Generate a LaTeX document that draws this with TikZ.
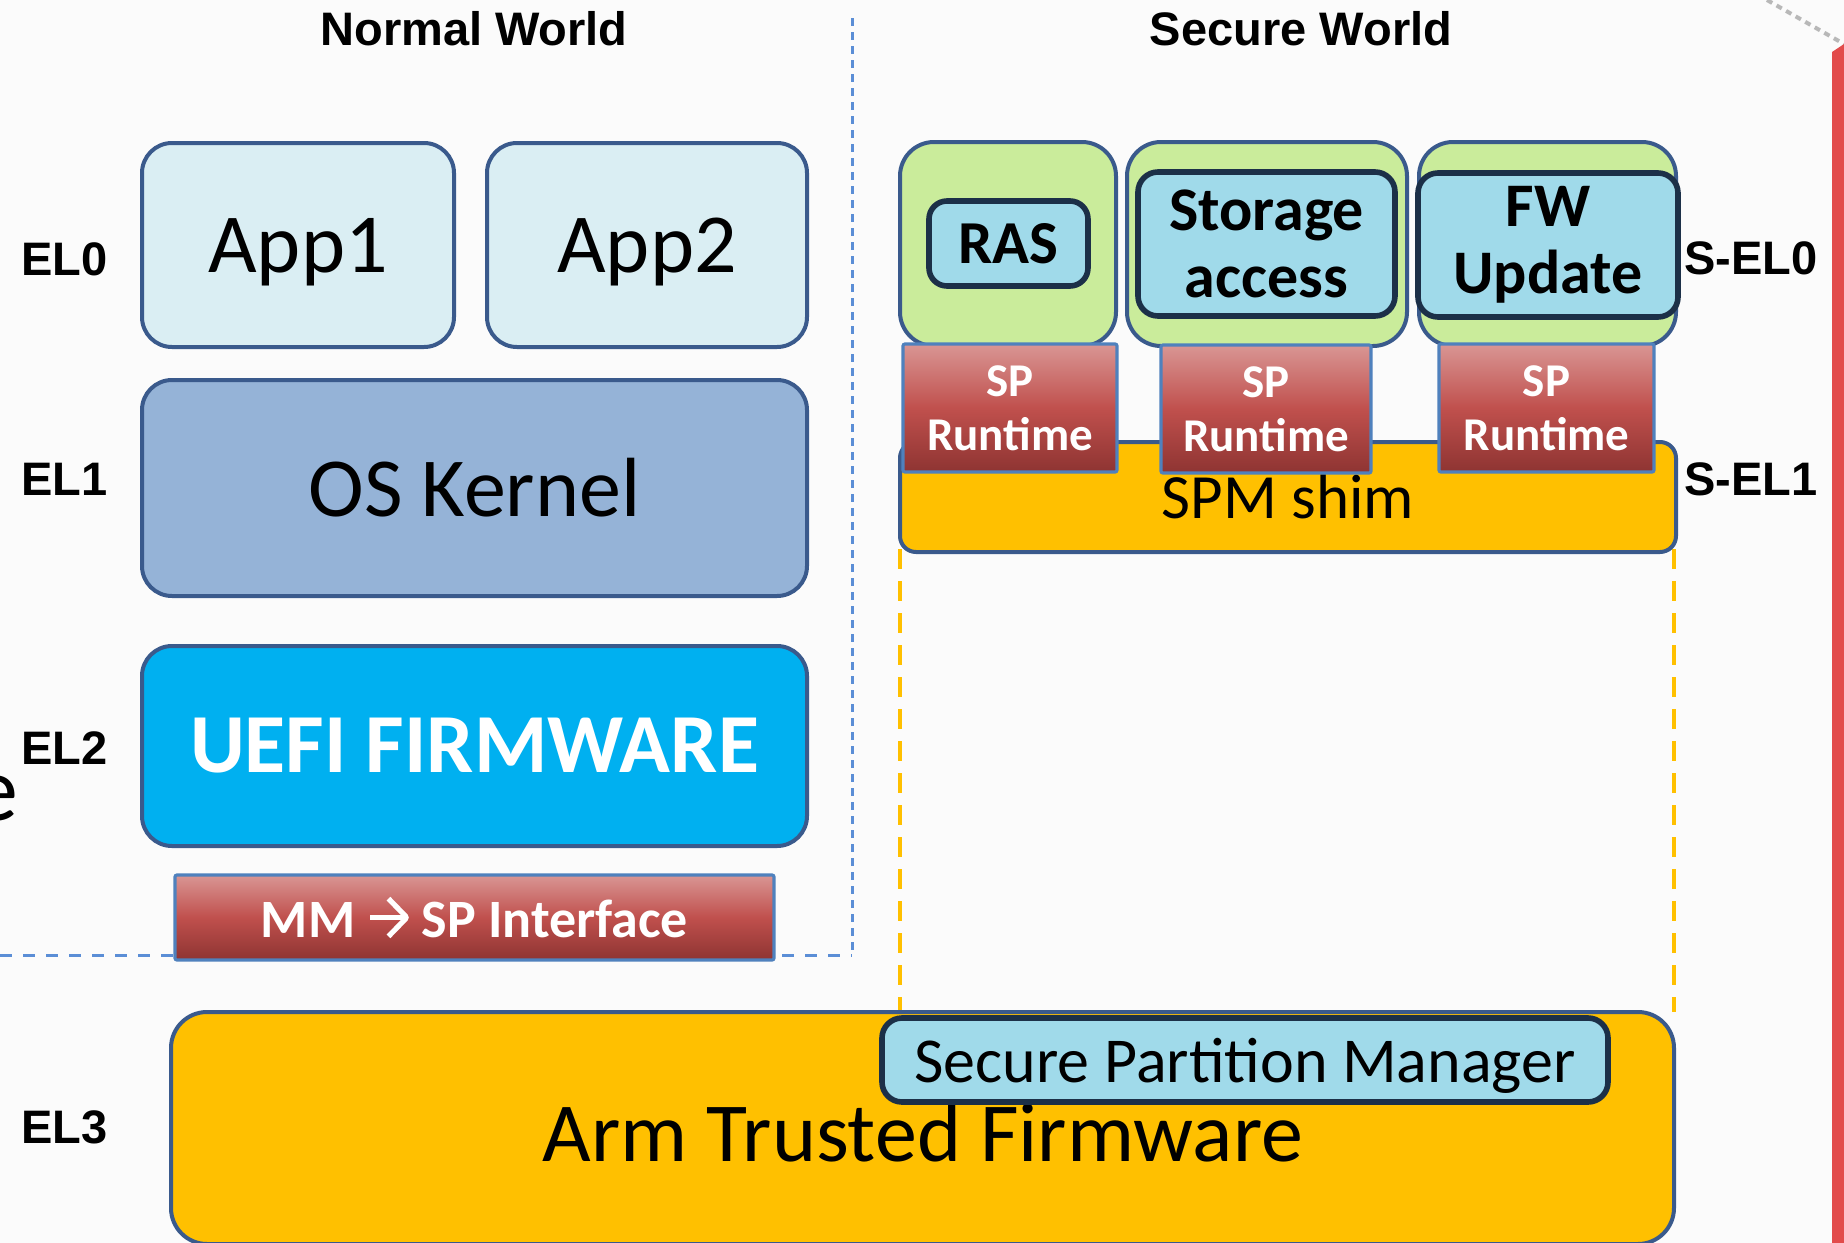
\documentclass[tikz,border=0pt]{standalone}
\usepackage{fontspec}
\setmainfont{Carlito}
\newfontfamily\arialf{Liberation Sans}
\usetikzlibrary{arrows.meta}
\definecolor{bgc}{HTML}{FBFBFB}
\definecolor{dkblue}{HTML}{3A5A8C}
\definecolor{appfill}{HTML}{DAEEF3}
\definecolor{osfill}{HTML}{95B3D7}
\definecolor{uefifill}{HTML}{00B0F0}
\definecolor{greenfill}{HTML}{CAEC9B}
\definecolor{bevelfill}{HTML}{A0DAEA}
\definecolor{beveledge}{HTML}{1C3048}
\definecolor{rtop}{HTML}{D99694}
\definecolor{rmid}{HTML}{C0504D}
\definecolor{rbot}{HTML}{8E3432}
\definecolor{redge}{HTML}{4F81BD}
\definecolor{yellowfill}{HTML}{FFC000}
\definecolor{redbar}{HTML}{E24B4B}
\definecolor{blued}{HTML}{5B8ED6}
\definecolor{greyd}{HTML}{B8B8B8}
\newcommand\mmarrow{\tikz[baseline=0pt]{\draw[white,line width=2.6pt] (0,0.37em) -- (0.66em,0.37em);
  \draw[white,line width=2.6pt,line join=miter] (0.34em,0.02em) -- (0.68em,0.37em) -- (0.34em,0.72em);}}
\begin{document}
\begin{tikzpicture}[x=0.5pt,y=-0.5pt,
  box/.style={draw=dkblue, line width=2pt, rounded corners=15pt, inner sep=0pt, align=center},
  appbox/.style={box, fill=appfill, font=\fontsize{42}{48}\selectfont, text depth=0pt},
  greenbox/.style={box, fill=greenfill, rounded corners=17pt},
  bevelbox/.style={draw=beveledge, line width=2.8pt, fill=bevelfill, rounded corners=10pt, inner sep=0pt, align=center},
  redbox/.style={draw=redge, line width=1.6pt, top color=rtop, bottom color=rbot, middle color=rmid, inner sep=0pt, align=center, text=white, rounded corners=1pt},
  yellowbox/.style={box, fill=yellowfill},
  lbl/.style={font=\arialf\bfseries\fontsize{23.5}{28}\selectfont, inner sep=0pt},
  elbl/.style={lbl, anchor=west},
  bdash/.style={blued, line width=1.5pt, dash pattern=on 4pt off 3pt},
  odash/.style={yellowfill, line width=2pt, dash pattern=on 10pt off 6pt}
]
\useasboundingbox (0,0) rectangle (1844,1243);
\fill[bgc] (0,0) rectangle (1844,1243);

% coordinates for dashed separators
\coordinate (vtop) at (852,18);
\coordinate (vbot) at (852,955);
\coordinate (hleft) at (0,955);
\coordinate (oltop) at (900,549);
\coordinate (olbot) at (900,1012);
\coordinate (ortop) at (1674,549);
\coordinate (orbot) at (1674,1012);
\coordinate (gstart) at (1767,0);
\coordinate (gend) at (1844,44);

% top right decoration
\draw[greyd, line width=2pt, dash pattern=on 3pt off 2.5pt] (gstart) -- (gend);
\fill[redbar] (1832,52) -- (1844,44) -- (1844,1243) -- (1832,1243) -- cycle;

% separators
\draw[bdash] (vtop) -- (vbot);
\draw[blued, line width=1.5pt, dash pattern=on 6pt off 5.5pt] (hleft) -- (vbot);
\draw[odash] (oltop) -- (olbot);
\draw[odash] (ortop) -- (orbot);

% cut-off letter at left edge
\node[font=\fontsize{46}{50}\selectfont, anchor=base east, inner sep=0pt] (efrag) at (19,820) {e};

% headings
\node[lbl] (nw) at (474,29) {Normal World};
\node[lbl] (sw) at (1301,29) {Secure World};
\node[elbl] (el0) at (21,259) {EL0};
\node[elbl] (el1) at (21,479) {EL1};
\node[elbl] (el2) at (21,748) {EL2};
\node[elbl] (el3) at (21,1127) {EL3};
\node[elbl] (sel0) at (1684,258) {S-EL0};
\node[elbl] (sel1) at (1684,479) {S-EL1};

% normal world
\node[appbox, minimum width=156pt, minimum height=102pt] (app1) at (298,245) {App1};
\node[appbox, minimum width=160pt, minimum height=102pt] (app2) at (647,245) {App2};
\node[box, fill=osfill, font=\fontsize{42}{48}\selectfont, minimum width=332.5pt, minimum height=108pt] (os) at (474.5,488) {OS Kernel};
\node[box, fill=uefifill, text=white, font=\bfseries\fontsize{42}{48}\selectfont, minimum width=332.5pt, minimum height=100pt] (uefi) at (474.5,746) {UEFI FIRMWARE};
\node[redbox, font=\bfseries\fontsize{27}{30}\selectfont, minimum width=299.5pt, minimum height=42.5pt] (mm) at (474.5,917.5) {MM \mmarrow{} SP Interface};

% EL3
\node[yellowbox, rounded corners=18pt, minimum width=751.5pt, minimum height=116pt] (atf) at (922.5,1128) {};
\node[font=\fontsize{42}{48}\selectfont, inner sep=0pt] (atftext) at (923,1133) {Arm Trusted Firmware};
\node[bevelbox, font=\fontsize{32}{36}\selectfont, text depth=0pt, minimum width=363pt, minimum height=42pt] (spm) at (1245,1060) {Secure Partition Manager};

% secure world
\node[yellowbox, rounded corners=8pt, font=\fontsize{31.5}{36}\selectfont, minimum width=388pt, minimum height=55pt] (shim) at (1288,497) {SPM shim};
\node[greenbox, minimum width=108pt, minimum height=102pt] (g1) at (1008,244) {};
\node[greenbox, minimum width=140pt, minimum height=102pt] (g2) at (1267,244) {};
\node[greenbox, minimum width=128.5pt, minimum height=102pt] (g3) at (1547.5,244) {};
\node[redbox, font=\bfseries\fontsize{23.5}{27}\selectfont, minimum width=107pt, minimum height=64pt] (spr1) at (1010,408) {SP\\Runtime};
\node[redbox, font=\bfseries\fontsize{23.5}{27}\selectfont, minimum width=105pt, minimum height=64pt] (spr2) at (1266,409) {SP\\Runtime};
\node[redbox, font=\bfseries\fontsize{23.5}{27}\selectfont, minimum width=107.5pt, minimum height=64pt] (spr3) at (1546.5,408) {SP\\Runtime};
\node[bevelbox, rounded corners=9pt, font=\bfseries\fontsize{30.5}{34}\selectfont, minimum width=79.5pt, minimum height=42.5pt] (ras) at (1008.5,243.5) {RAS};
\node[bevelbox, font=\bfseries\fontsize{31}{33.5}\selectfont, minimum width=128.5pt, minimum height=72pt] (stor) at (1266.5,244) {Storage\\access};
\node[bevelbox, font=\bfseries\fontsize{31}{33.5}\selectfont, minimum width=130pt, minimum height=72pt] (fw) at (1548,245) {FW\\Update};
\end{tikzpicture}
\end{document}
